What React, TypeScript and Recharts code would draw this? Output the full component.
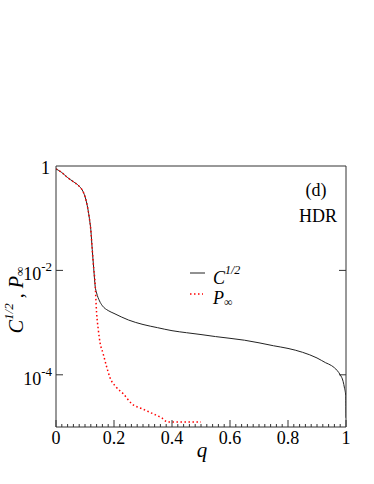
import React from 'react';
import { LineChart, Line, XAxis, YAxis } from 'recharts';

// C^{1/2} vs q
const qC = [0, 0.02, 0.04, 0.06, 0.08, 0.09, 0.1, 0.11, 0.115, 0.12, 0.125, 0.13, 0.135, 0.14, 0.15, 0.16, 0.18, 0.2, 0.25, 0.3, 0.35, 0.4, 0.45, 0.5, 0.55, 0.6, 0.65, 0.7, 0.75, 0.8, 0.85, 0.9, 0.93, 0.95, 0.97, 0.98, 0.99, 0.995, 0.999, 1.0];
const cHalf = [0.88, 0.75, 0.6, 0.5, 0.41, 0.35, 0.26, 0.15, 0.1, 0.06, 0.025, 0.011, 0.005, 0.0037, 0.0026, 0.0021, 0.0017, 0.0015, 0.00112, 0.00092, 0.0008, 0.0007, 0.00064, 0.00059, 0.00054, 0.0005, 0.00046, 0.00041, 0.00036, 0.00032, 0.00027, 0.00021, 0.00017, 0.00015, 0.00012, 0.0001, 0.000075, 0.000055, 0.00004, 0.000015];

// P_inf vs q
const qP = [0, 0.02, 0.04, 0.06, 0.08, 0.09, 0.1, 0.11, 0.115, 0.12, 0.125, 0.13, 0.134, 0.14, 0.146, 0.152, 0.162, 0.175, 0.186, 0.209, 0.231, 0.261, 0.3, 0.334, 0.364, 0.386, 0.45, 0.5];
const pInf = [0.88, 0.75, 0.6, 0.5, 0.41, 0.35, 0.26, 0.15, 0.1, 0.06, 0.025, 0.011, 0.0066, 0.00155, 0.00072, 0.00041, 0.00026, 0.00014, 0.000089, 0.000057, 0.000044, 0.000028, 0.000022, 0.000018, 0.000015, 0.0000124, 0.0000124, 0.0000124];

const xTicks = Array.from({ length: 51 }, (_, i) => i / 50);
const xLabels = ['0', '0.2', '0.4', '0.6', '0.8', '1'];
const yTicks = [1, 1e-2, 1e-4];
const yLabels = ['', '-2', '-4'];

const cData = qC.map((q, i) => ({ q, c: cHalf[i] }));
const pData = qP.map((q, i) => ({ q, p: pInf[i] }));

const SERIF = { fontFamily: "'Liberation Serif', 'Times New Roman', serif" };
const AXIS = '#333';

const majorIndex = (v: number) => {
  const k = Math.round(v * 5);
  return Math.abs(v * 5 - k) < 1e-6 ? k : -1;
};

const BottomTick = ({ x, y, payload }: any) => {
  const k = majorIndex(payload.value);
  return (
    <g>
      <line x1={x} x2={x} y1={y} y2={y - (k >= 0 ? 7 : 3)} stroke={AXIS} strokeWidth={1} />
      {k >= 0 && (
        <text x={x} y={y + 17} textAnchor="middle" fontSize={18} style={SERIF} fill="#000">
          {xLabels[k]}
        </text>
      )}
    </g>
  );
};

const TopTick = ({ x, y, payload }: any) => {
  const k = majorIndex(payload.value);
  return <line x1={x} x2={x} y1={y} y2={y + (k >= 0 ? 7 : 3)} stroke={AXIS} strokeWidth={1} />;
};

const LeftTick = ({ x, y, index }: any) => {
  const sup = yLabels[index];
  return (
    <g>
      {index > 0 && <line x1={x} x2={x + 7} y1={y} y2={y} stroke={AXIS} />}
      {sup ? (
        <text x={x - 4} y={y + 10} textAnchor="end" fontSize={18} style={SERIF} fill="#000">
          10<tspan dy={-9} fontSize={13}>{sup}</tspan>
        </text>
      ) : (
        <text x={x - 6} y={y + 8} textAnchor="end" fontSize={18} style={SERIF} fill="#000">
          1
        </text>
      )}
    </g>
  );
};

const RightTick = ({ x, y, index }: any) =>
  index > 0 ? <line x1={x} x2={x - 7} y1={y} y2={y} stroke={AXIS} /> : <g />;

export default function App() {
  return (
    <div style={{ position: 'absolute', left: 0, top: 0, width: 374, height: 484, background: '#fff' }}>
      <LineChart width={374} height={484} margin={{ top: 0, right: 0, bottom: 0, left: 0 }}>
        <XAxis
          xAxisId="b"
          dataKey="q"
          type="number"
          domain={[0, 1]}
          ticks={xTicks}
          interval={0}
          height={57}
          tickSize={0}
          tickMargin={0}
          tickLine={false}
          axisLine={{ stroke: AXIS }}
          tick={<BottomTick />}
          allowDataOverflow
        />
        <XAxis
          xAxisId="t"
          orientation="top"
          type="number"
          domain={[0, 1]}
          ticks={xTicks}
          interval={0}
          height={166}
          tickSize={0}
          tickMargin={0}
          tickLine={false}
          axisLine={{ stroke: AXIS }}
          tick={<TopTick />}
          allowDataOverflow
        />
        <YAxis
          yAxisId="l"
          type="number"
          scale="log"
          domain={[1e-5, 1]}
          ticks={yTicks}
          interval={0}
          width={56}
          tickSize={0}
          tickMargin={0}
          tickLine={false}
          axisLine={{ stroke: AXIS }}
          tick={<LeftTick />}
          allowDataOverflow
        />
        <YAxis
          yAxisId="r"
          orientation="right"
          type="number"
          scale="log"
          domain={[1e-5, 1]}
          ticks={yTicks}
          interval={0}
          width={28}
          tickSize={0}
          tickMargin={0}
          tickLine={false}
          axisLine={{ stroke: AXIS }}
          tick={<RightTick />}
          allowDataOverflow
        />
        <Line
          xAxisId="b"
          yAxisId="l"
          data={cData}
          dataKey="c"
          name="C1/2"
          type="monotone"
          stroke="#222"
          strokeWidth={1}
          dot={false}
          isAnimationActive={false}
        />
        <Line
          xAxisId="b"
          yAxisId="l"
          data={pData}
          dataKey="p"
          name="P∞"
          type="monotone"
          stroke="#ff0000"
          strokeWidth={1.5}
          strokeDasharray="1.5 2.5"
          dot={false}
          isAnimationActive={false}
        />
      </LineChart>
      <svg
        width={374}
        height={484}
        style={{ position: 'absolute', left: 0, top: 0, pointerEvents: 'none' }}
      >
        <line x1={190} x2={205} y1={273} y2={273} stroke="#222" strokeWidth={1} />
        <text x={213} y={284} fontSize={18} fontStyle="italic" style={SERIF}>
          C<tspan dy={-10} fontSize={12}>1/2</tspan>
        </text>
        <line x1={190} x2={203} y1={294} y2={294} stroke="#ff0000" strokeWidth={1.5} strokeDasharray="1.5 2.5" />
        <text x={213} y={304} fontSize={18} fontStyle="italic" style={SERIF}>
          P<tspan dy={2} fontSize={12} fontStyle="normal">∞</tspan>
        </text>
        <text x={316} y={196} textAnchor="middle" fontSize={18} style={SERIF}>(d)</text>
        <text x={318} y={222} textAnchor="middle" fontSize={18} style={SERIF}>HDR</text>
        <text x={202} y={457} textAnchor="middle" fontSize={21} fontStyle="italic" style={SERIF}>q</text>
        <text
          transform="translate(23,300) rotate(-90)"
          textAnchor="middle"
          fontSize={20}
          fontStyle="italic"
          style={SERIF}
        >
          C<tspan dy={-10} fontSize={13}>1/2</tspan>
          <tspan dy={10} fontStyle="normal"> ,  </tspan>
          P<tspan dy={1} fontSize={13} fontStyle="normal">∞</tspan>
        </text>
      </svg>
    </div>
  );
}
